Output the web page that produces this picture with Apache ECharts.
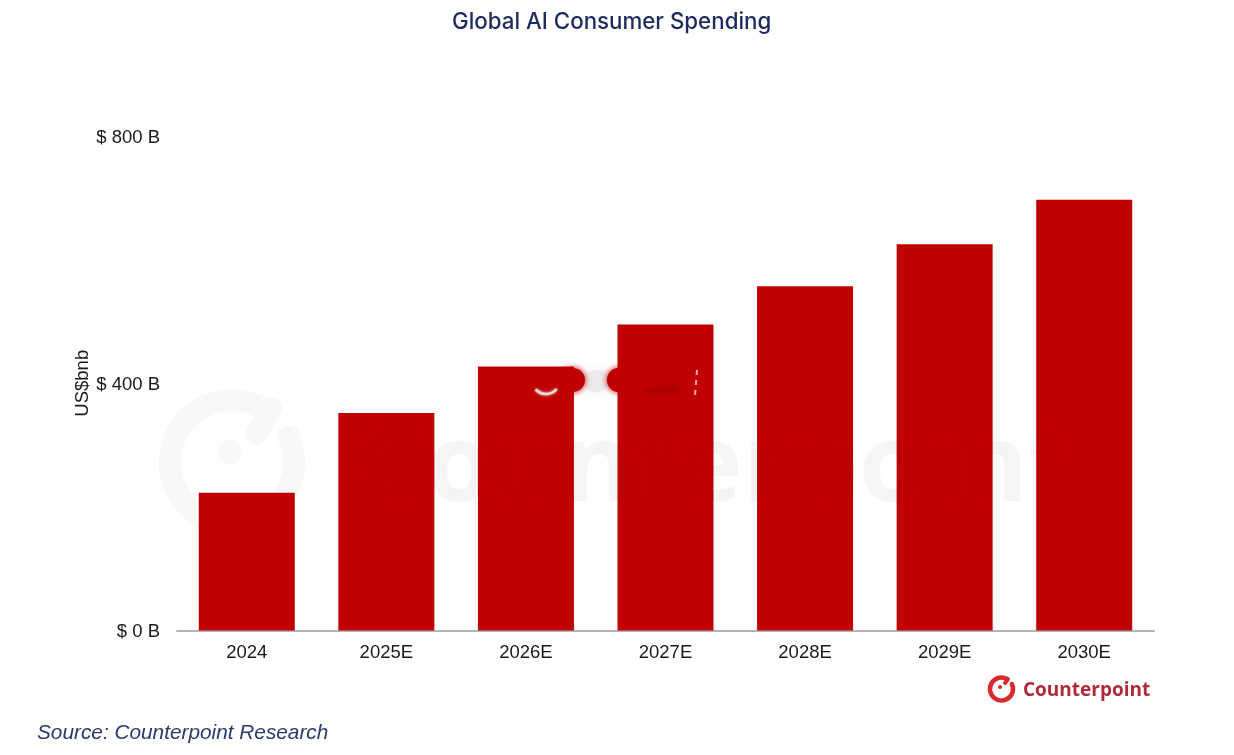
<!DOCTYPE html>
<html lang="en">
<head>
  <meta charset="UTF-8">
  <title>Global AI Consumer Spending</title>
  <script src="https://cdn.jsdelivr.net/npm/echarts/dist/echarts.min.js"></script>
  <style>
    html, body { margin: 0; background: #ffffff; }
    #main { width: 1234px; height: 755px; }
  </style>
</head>
<body>
  <div id="main"></div>
  <script>
    const years = ['2024', '2025E', '2026E', '2027E', '2028E', '2029E', '2030E'];
    const spending = [223, 352, 427, 495, 557, 625, 697];
    const yTicks = { 0: '$ 0 B', 400: '$ 400 B', 800: '$ 800 B' };

    const wash = '#f8f8f8';
    const washOnBars = 'rgba(0,0,0,0.012)';
    const brand = '#b02a3a';
    const logoRed = '#d92b2f';
    const barRed = '#c00000';

    const chart = echarts.init(document.getElementById('main'), null, { renderer: 'canvas' });

    // Watermark text is drawn twice: pale under the bars, barely there on top of them
    function watermarkText(fill, z) {
      return {
        type: 'text', z: z, silent: true, left: 358, top: 417,
        style: { text: 'Counterpoint', fontFamily: 'Open Sans', fontWeight: 'bold', fontSize: 107, fill: fill }
      };
    }

    chart.setOption({
      animation: false,
      backgroundColor: '#ffffff',
      textStyle: { fontFamily: 'Liberation Sans' },
      title: {
        text: 'Global AI Consumer Spending',
        left: 447,
        top: 6,
        textStyle: { fontFamily: 'Inter', fontSize: 22.3, fontWeight: 500, color: '#1c2b5c' }
      },
      grid: { left: 177, right: 80, top: 136, bottom: 124.5 },
      xAxis: {
        type: 'category',
        data: years,
        axisTick: { show: false },
        axisLine: { lineStyle: { color: '#b4b4b4', width: 2 } },
        axisLabel: { color: '#1a1a1a', fontSize: 18.5, margin: 13 }
      },
      yAxis: {
        type: 'value',
        min: 0,
        max: 800,
        interval: 400,
        name: 'US$bnb',
        nameLocation: 'middle',
        nameGap: 85,
        nameMoveOverlap: false,
        nameTextStyle: { color: '#1a1a1a', fontSize: 18.5 },
        axisLine: { show: false },
        axisTick: { show: false },
        splitLine: { show: false },
        axisLabel: {
          margin: 17,
          formatter: v => '{t|' + yTicks[v] + '}',
          rich: { t: { color: '#1a1a1a', fontSize: 18.5, padding: [3, 0, 0, 0] } }
        }
      },
      series: [{
        type: 'bar',
        data: spending,
        barWidth: 96,
        itemStyle: { color: barRed }
      }],
      graphic: [
        // watermark ring, dot and hook
        {
          type: 'arc', z: 0, silent: true,
          shape: { cx: 232, cy: 462, r: 62, startAngle: -0.42, endAngle: 5.3 },
          style: { fill: 'none', stroke: wash, lineWidth: 22, lineCap: 'round' }
        },
        {
          type: 'line', z: 0, silent: true,
          shape: { x1: 272, y1: 408, x2: 256, y2: 434 },
          style: { stroke: wash, lineWidth: 21, lineCap: 'round' }
        },
        {
          type: 'circle', z: 0, silent: true,
          shape: { cx: 230, cy: 452, r: 12 },
          style: { fill: wash }
        },
        watermarkText(wash, 0),
        watermarkText(washOnBars, 10),
        // smudge over the 2026E / 2027E bars
        {
          type: 'ellipse', z: 11, silent: true,
          shape: { cx: 596, cy: 381, rx: 12, ry: 11 },
          style: { fill: '#ececec', shadowBlur: 8, shadowColor: '#ececec' }
        },
        {
          type: 'ellipse', z: 11, silent: true,
          shape: { cx: 573, cy: 380, rx: 12, ry: 12 },
          style: { fill: barRed, shadowBlur: 6, shadowColor: barRed }
        },
        {
          type: 'ellipse', z: 11, silent: true,
          shape: { cx: 618, cy: 380, rx: 11, ry: 12 },
          style: { fill: barRed, shadowBlur: 6, shadowColor: barRed }
        },
        {
          type: 'arc', z: 11, silent: true,
          shape: { cx: 546, cy: 380, r: 14, startAngle: 0.7, endAngle: 2.4 },
          style: { fill: 'none', stroke: '#f0dcdc', lineWidth: 2.5, shadowBlur: 3, shadowColor: '#f0dcdc' }
        },
        {
          type: 'ellipse', z: 11, silent: true,
          shape: { cx: 662, cy: 390, rx: 18, ry: 3 },
          style: { fill: '#ac0000', shadowBlur: 6, shadowColor: '#ac0000' }
        },
        {
          type: 'line', z: 11, silent: true,
          shape: { x1: 697, y1: 370, x2: 695, y2: 396 },
          style: { stroke: '#e8a8a8', lineWidth: 2, lineDash: [5, 5] }
        },
        // logo bottom right
        {
          type: 'arc', z: 10, silent: true,
          shape: { cx: 1001.5, cy: 689, r: 11.5, startAngle: -0.45, endAngle: 5.2 },
          style: { fill: 'none', stroke: logoRed, lineWidth: 4.5, lineCap: 'round' }
        },
        {
          type: 'line', z: 10, silent: true,
          shape: { x1: 1008, y1: 679, x2: 1005, y2: 683 },
          style: { stroke: logoRed, lineWidth: 4, lineCap: 'round' }
        },
        {
          type: 'circle', z: 10, silent: true,
          shape: { cx: 1000, cy: 687, r: 2 },
          style: { fill: logoRed }
        },
        {
          type: 'text', z: 10, silent: true, left: 1023, top: 681,
          style: { text: 'Counterpoint', fontFamily: 'Open Sans', fontWeight: 'bold', fontSize: 19, fill: brand }
        },
        {
          type: 'text', left: 37, top: 723,
          style: { text: 'Source: Counterpoint Research', fontFamily: 'Liberation Sans', fontStyle: 'italic', fontSize: 20.8, fill: '#2a3a6a' }
        }
      ]
    });
  </script>
</body>
</html>
